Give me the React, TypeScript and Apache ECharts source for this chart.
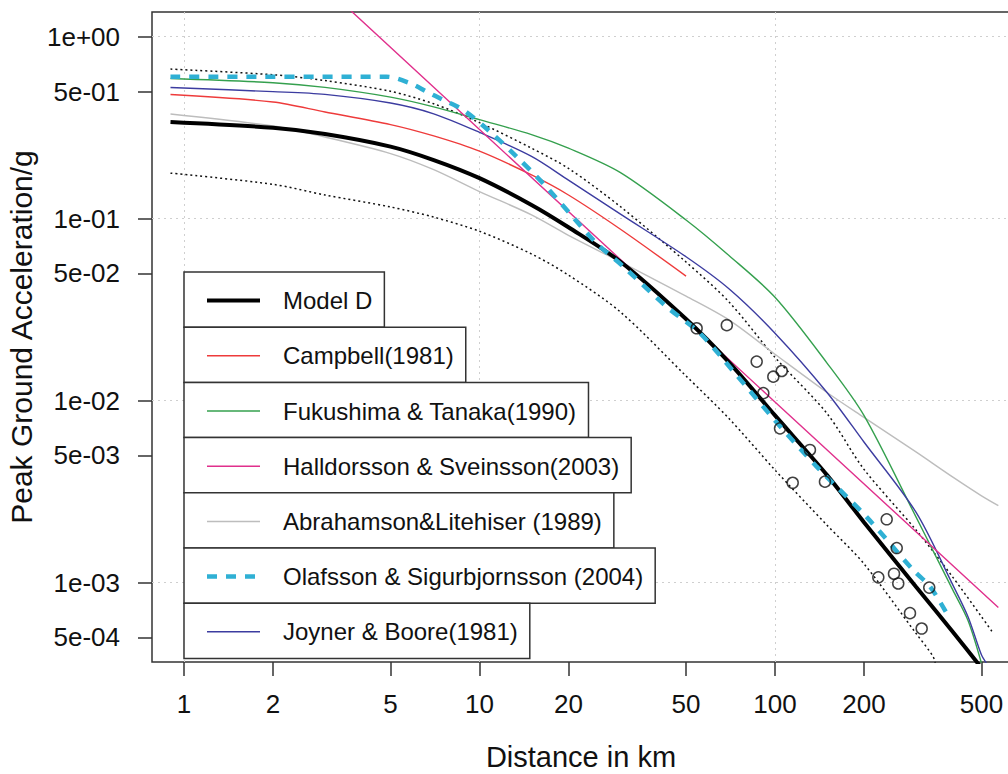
import React, { useEffect, useRef } from "react";
import * as echarts from "echarts";

// ---------- axis ticks ----------
const xTickValues = [1, 2, 5, 10, 20, 50, 100, 200, 500];
const xTickLabels = ["1", "2", "5", "10", "20", "50", "100", "200", "500"];
const yTickValues = [1, 0.5, 0.1, 0.05, 0.01, 0.005, 0.001, 0.0005];
const yTickLabels = ["1e+00", "5e-01", "1e-01", "5e-02", "1e-02", "5e-03", "1e-03", "5e-04"];
const xGridValues = [1, 10, 100];
const yGridValues = [1, 0.1, 0.01, 0.001];

// ---------- series data (distance km, PGA g) ----------
const modelDDist = [0.9, 2, 3, 5, 7, 10, 15, 20, 30, 50, 70, 100, 150, 200, 300, 400, 500];
const modelDPga = [0.34, 0.316, 0.292, 0.249, 0.21, 0.167, 0.119, 0.0897, 0.058, 0.0281, 0.0162, 0.0083, 0.0039, 0.00215, 0.00095, 0.000536, 0.00034];

const upperDist = [0.9, 2, 3, 5, 7, 10, 15, 20, 30, 50, 70, 100, 150, 200, 300, 400, 500, 548];
const upperPga = [0.664, 0.618, 0.574, 0.501, 0.428, 0.337, 0.244, 0.189, 0.1164, 0.0578, 0.0348, 0.0173, 0.0085, 0.0042, 0.00195, 0.00107, 0.00065, 0.000527];

const lowerDist = [0.9, 2, 3, 5, 7, 10, 15, 20, 30, 50, 70, 100, 150, 200, 300, 343, 350];
const lowerPga = [0.178, 0.1545, 0.135, 0.116, 0.102, 0.0853, 0.064, 0.049, 0.0307, 0.01367, 0.00796, 0.00416, 0.00207, 0.00127, 0.000527, 0.000392, 0.00035];

const campbellDist = [0.9, 2, 3, 5, 7, 10, 15, 20, 30, 50];
const campbellPga = [0.481, 0.438, 0.386, 0.329, 0.285, 0.235, 0.174, 0.135, 0.0875, 0.0484];

const fukushimaDist = [0.9, 2, 3, 5, 7, 10, 15, 20, 30, 50, 70, 100, 150, 200, 300, 350, 400, 450, 500];
const fukushimaPga = [0.589, 0.559, 0.527, 0.466, 0.412, 0.35, 0.29, 0.244, 0.179, 0.0984, 0.0626, 0.037, 0.0161, 0.0083, 0.0023, 0.0014, 0.00091, 0.00062, 0.00036];

const halldorssonDist = [3, 10, 100, 570];
const halldorssonPga = [1.88, 0.309, 0.00984, 0.00073];

const abrahamsonDist = [0.9, 2, 3, 5, 7, 10, 15, 20, 30, 50, 70, 100, 150, 200, 300, 400, 500, 570];
const abrahamsonPga = [0.376, 0.323, 0.281, 0.228, 0.186, 0.141, 0.105, 0.0811, 0.0579, 0.0375, 0.0277, 0.018, 0.0111, 0.0081, 0.00523, 0.0038, 0.003, 0.00265];

const olafssonDist = [0.9, 4.85, 5.82, 6.63, 7.54, 8.81, 10.85, 13.36, 16.44, 20.2, 24.9, 30.7, 43, 55.7, 72.3, 98.6, 138.4, 204, 294, 335, 381];
const olafssonPga = [0.603, 0.603, 0.555, 0.499, 0.449, 0.396, 0.301, 0.219, 0.156, 0.107, 0.0732, 0.0545, 0.0328, 0.0235, 0.0145, 0.008, 0.00434, 0.0023, 0.00117, 0.00095, 0.00068];

const joynerDist = [0.9, 2, 3, 5, 7, 10, 15, 20, 30, 50, 70, 100, 150, 200, 300, 400, 450, 500, 520];
const joynerPga = [0.526, 0.499, 0.482, 0.432, 0.377, 0.298, 0.22, 0.163, 0.106, 0.0618, 0.0411, 0.0235, 0.0111, 0.00593, 0.00244, 0.00097, 0.00065, 0.0004, 0.00036];

const obsDist = [54.3, 68.7, 86.7, 98.7, 105.4, 91.3, 104, 131.3, 147.6, 114.8, 238.8, 258.2, 252.8, 261.3, 223.7, 332.7, 286.3, 313.6];
const obsPga = [0.025, 0.026, 0.0164, 0.01355, 0.01456, 0.011, 0.00705, 0.00536, 0.00359, 0.00354, 0.00223, 0.00155, 0.00112, 0.00099, 0.00107, 0.00094, 0.00068, 0.00056];

const legendNames = [
  "Model D",
  "Campbell(1981)",
  "Fukushima & Tanaka(1990)",
  "Halldorsson & Sveinsson(2003)",
  "Abrahamson&Litehiser (1989)",
  "Olafsson & Sigurbjornsson (2004)",
  "Joyner & Boore(1981)",
];

const FONT = '"Liberation Sans", Arial, Helvetica, sans-serif';
const C = {
  model: "#000000",
  campbell: "#ee3b3b",
  fukushima: "#35a04e",
  halldorsson: "#e0308c",
  abrahamson: "#bdbdbd",
  olafsson: "#2fb0d4",
  joyner: "#3c3ca0",
};

const legendStyles = [
  { color: C.model, width: 4, dash: null as number[] | null },
  { color: C.campbell, width: 1.5, dash: null },
  { color: C.fukushima, width: 1.5, dash: null },
  { color: C.halldorsson, width: 1.5, dash: null },
  { color: C.abrahamson, width: 1.5, dash: null },
  { color: C.olafsson, width: 4.5, dash: [10, 9] },
  { color: C.joyner, width: 1.5, dash: null },
];

const X_MIN = 0.7792;
const X_MAX = 624.2;
const Y_MIN = 3.666e-4;
const Y_MAX = 1.3672;

function pairs(xs: number[], ys: number[]) {
  return xs.map((x, i) => [x, ys[i]]);
}

function lookup(values: number[], labels: string[], v: number) {
  const i = values.findIndex((t) => Math.abs(Math.log10(t) - Math.log10(v)) < 1e-6);
  return i >= 0 ? labels[i] : "";
}

function lineSeries(name: string, xs: number[], ys: number[], color: string, width: number, type: any, z: number, smooth: any = 0.3) {
  return {
    name,
    type: "line",
    data: pairs(xs, ys),
    showSymbol: false,
    symbol: "none",
    smooth,
    clip: true,
    z,
    lineStyle: { color, width, type },
    emphasis: { disabled: true },
  };
}

export default function App() {
  const ref = useRef<HTMLDivElement>(null);
  useEffect(() => {
    document.body.style.margin = "0";
    if (!ref.current) return;
    const chart = echarts.init(ref.current, undefined, { renderer: "svg" });

    const canvas = document.createElement("canvas");
    const ctx = canvas.getContext("2d")!;
    ctx.font = `24px ${FONT}`;

    const boxLeft = 184;
    const boxTop = 272;
    const boxH = 55.2;
    const graphics: any[] = [];
    legendNames.forEach((name, i) => {
      const tw = ctx.measureText(name).width;
      const top = boxTop + i * boxH;
      const cy = top + boxH / 2 + 1;
      const st = legendStyles[i];
      graphics.push({
        type: "rect",
        z: 100,
        shape: { x: boxLeft, y: top, width: 99 + tw + 12, height: boxH },
        style: { fill: "#ffffff", stroke: "#333333", lineWidth: 1.5 },
      });
      graphics.push({
        type: "line",
        z: 101,
        shape: { x1: 207, y1: cy, x2: 260, y2: cy },
        style: { stroke: st.color, lineWidth: st.width, lineDash: st.dash || undefined },
      });
      graphics.push({
        type: "text",
        z: 101,
        style: {
          text: name,
          x: 283,
          y: cy,
          font: `24px ${FONT}`,
          fill: "#111111",
          verticalAlign: "middle",
          align: "left",
        },
      });
    });

    const option: any = {
      animation: false,
      backgroundColor: "#ffffff",
      grid: {
        left: 152,
        top: 12,
        width: 858,
        height: 650,
        show: true,
        borderColor: "#333333",
        borderWidth: 1.5,
        backgroundColor: "transparent",
        containLabel: false,
        outerBoundsMode: "none",
      },
      xAxis: [
        {
          type: "log",
          logBase: 10,
          min: X_MIN,
          max: X_MAX,
          position: "bottom",
          axisLine: { show: false },
          axisTick: { show: true, customValues: xTickValues, length: 14, lineStyle: { color: "#333", width: 1.5 } },
          axisLabel: {
            customValues: xTickValues,
            formatter: (v: number) => lookup(xTickValues, xTickLabels, v),
            fontSize: 26,
            fontFamily: FONT,
            color: "#111",
            margin: 29,
          },
          splitLine: { show: false },
          name: "Distance in km",
          nameLocation: "middle",
          nameGap: 80,
          nameTextStyle: { fontSize: 29, fontFamily: FONT, color: "#111" },
        },
        {
          type: "log",
          logBase: 10,
          min: X_MIN,
          max: X_MAX,
          position: "top",
          axisLine: { show: false },
          axisTick: { show: false, customValues: xGridValues },
          axisLabel: { show: false, customValues: xGridValues },
          splitLine: { show: true, lineStyle: { color: "#cfcfcf", width: 1, type: [2, 4] } },
        },
      ],
      yAxis: [
        {
          type: "log",
          logBase: 10,
          min: Y_MIN,
          max: Y_MAX,
          position: "left",
          axisLine: { show: false },
          axisTick: { show: true, customValues: yTickValues, length: 14, lineStyle: { color: "#333", width: 1.5 } },
          axisLabel: {
            customValues: yTickValues,
            formatter: (v: number) => lookup(yTickValues, yTickLabels, v),
            fontSize: 26,
            fontFamily: FONT,
            color: "#111",
            margin: 32,
          },
          splitLine: { show: false },
          name: "Peak Ground Acceleration/g",
          nameLocation: "middle",
          nameGap: 110,
          nameTextStyle: { fontSize: 30, fontFamily: FONT, color: "#111" },
        },
        {
          type: "log",
          logBase: 10,
          min: Y_MIN,
          max: Y_MAX,
          position: "right",
          axisLine: { show: false },
          axisTick: { show: false, customValues: yGridValues },
          axisLabel: { show: false, customValues: yGridValues },
          splitLine: { show: true, lineStyle: { color: "#cfcfcf", width: 1, type: [2, 4] } },
        },
      ],
      series: [
        lineSeries("upper", upperDist, upperPga, "#111", 1.5, [2, 3], 3),
        lineSeries("lower", lowerDist, lowerPga, "#111", 1.5, [2, 3], 3),
        lineSeries(legendNames[4], abrahamsonDist, abrahamsonPga, C.abrahamson, 1.4, "solid", 4),
        lineSeries(legendNames[1], campbellDist, campbellPga, C.campbell, 1.4, "solid", 5),
        lineSeries(legendNames[2], fukushimaDist, fukushimaPga, C.fukushima, 1.4, "solid", 5),
        lineSeries(legendNames[6], joynerDist, joynerPga, C.joyner, 1.4, "solid", 5),
        lineSeries(legendNames[3], halldorssonDist, halldorssonPga, C.halldorsson, 1.4, "solid", 6, false),
        lineSeries(legendNames[0], modelDDist, modelDPga, C.model, 4, "solid", 7),
        lineSeries(legendNames[5], olafssonDist, olafssonPga, C.olafsson, 4.5, [10, 9], 8),
        {
          name: "observed",
          type: "scatter",
          data: pairs(obsDist, obsPga),
          symbol: "circle",
          symbolSize: 11,
          z: 9,
          itemStyle: { color: "rgba(0,0,0,0)", borderColor: "#111", borderWidth: 1.5 },
          emphasis: { disabled: true },
        },
      ],
      graphic: graphics,
    };
    chart.setOption(option);
    return () => chart.dispose();
  }, []);
  return <div ref={ref} style={{ width: 1008, height: 774 }} />;
}
